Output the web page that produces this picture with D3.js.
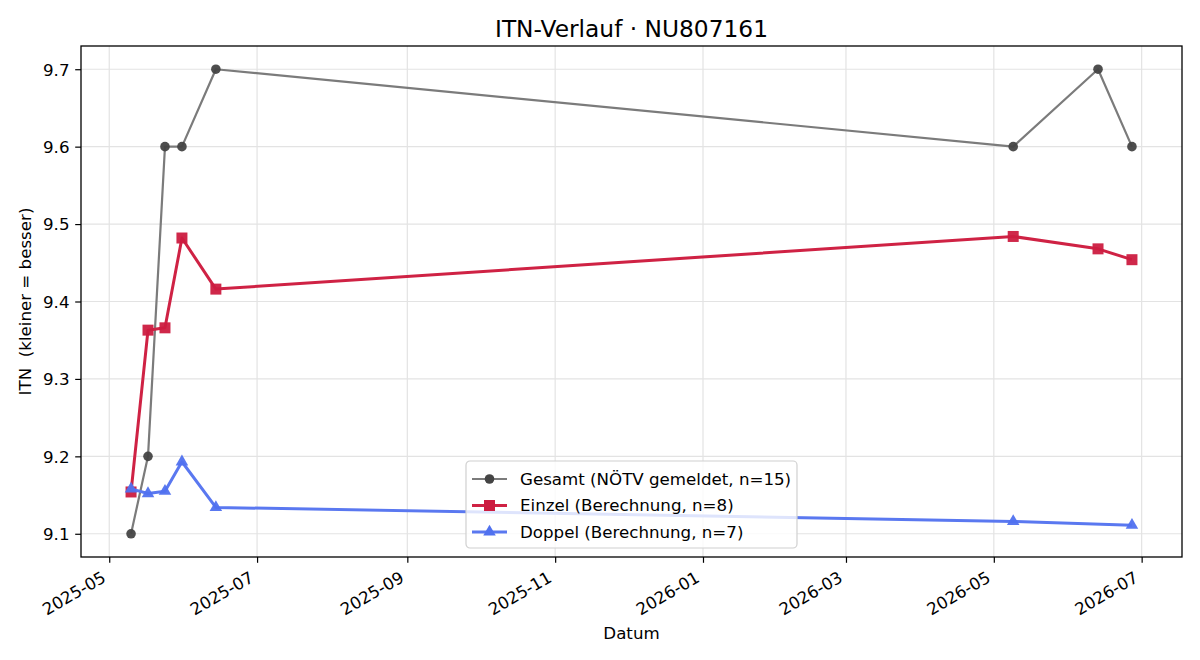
<!DOCTYPE html>
<html>
<head>
<meta charset="utf-8">
<script src="https://cdn.jsdelivr.net/npm/d3@7"></script>
<style>
  body { margin: 0; background: #fff; }
  text { font-family: "DejaVu Sans", sans-serif; fill: #000; }
</style>
</head>
<body>
<div id="chart"></div>
<script>
// data
var dates = ["2025-05-10", "2025-05-17", "2025-05-24", "2025-05-31", "2025-06-14",
             "2026-05-09", "2026-06-13", "2026-06-27"];
var gesamt = [9.1, 9.2, 9.6, 9.6, 9.7, 9.6, 9.7, 9.6];
var einzel = [9.154, 9.363, 9.366, 9.482, 9.416, 9.484, 9.468, 9.454];
var doppelDates = ["2025-05-10", "2025-05-17", "2025-05-24", "2025-05-31", "2025-06-14",
                   "2026-05-09", "2026-06-27"];
var doppel = [9.158, 9.152, 9.155, 9.193, 9.134, 9.116, 9.111];
var yTicks = [9.1, 9.2, 9.3, 9.4, 9.5, 9.6, 9.7];
var legendLabels = ["Gesamt (NÖTV gemeldet, n=15)", "Einzel (Berechnung, n=8)", "Doppel (Berechnung, n=7)"];

var svgWidth = 1200;
var svgHeight = 660;
var margin = { top: 46, right: 18, bottom: 103, left: 81 };
var chartWidth = svgWidth - margin.left - margin.right;
var chartHeight = svgHeight - margin.top - margin.bottom;
var fontSize = "16.67px";

var parse = d3.timeParse("%Y-%m-%d");

var svg = d3.select("#chart")
  .append("svg")
  .attr("width", svgWidth)
  .attr("height", svgHeight);

var chartGroup = svg.append("g")
  .attr("transform", `translate(${margin.left}, ${margin.top})`);

// scales with matplotlib-like 5% padding
var xExt = d3.extent(dates.map(parse));
var xPad = (xExt[1] - xExt[0]) * 0.05;
var xScale = d3.scaleTime()
  .domain([new Date(+xExt[0] - xPad), new Date(+xExt[1] + xPad)])
  .range([0, chartWidth]);

var yScale = d3.scaleLinear()
  .domain([9.07, 9.73])
  .range([chartHeight, 0]);

var xTicks = xScale.ticks(d3.timeMonth.every(2));

// grid
chartGroup.append("g")
  .selectAll("line")
  .data(xTicks)
  .enter()
  .append("line")
  .attr("x1", d => xScale(d))
  .attr("x2", d => xScale(d))
  .attr("y1", 0)
  .attr("y2", chartHeight)
  .attr("stroke", "#e3e3e3")
  .attr("stroke-width", 1.2);

chartGroup.append("g")
  .selectAll("line")
  .data(yTicks)
  .enter()
  .append("line")
  .attr("x1", 0)
  .attr("x2", chartWidth)
  .attr("y1", d => yScale(d))
  .attr("y2", d => yScale(d))
  .attr("stroke", "#e3e3e3")
  .attr("stroke-width", 1.2);

// axes
var bottomAxis = d3.axisBottom(xScale)
  .tickValues(xTicks)
  .tickSize(5.8)
  .tickFormat(d3.timeFormat("%Y-%m"));
var leftAxis = d3.axisLeft(yScale)
  .tickValues(yTicks)
  .tickSize(5.8)
  .tickFormat(d3.format(".1f"));

var xAxisG = chartGroup.append("g")
  .attr("transform", `translate(0, ${chartHeight})`)
  .call(bottomAxis);
xAxisG.select(".domain").remove();
xAxisG.selectAll("text").remove();
xAxisG.selectAll(".tick")
  .append("text")
  .attr("transform", "translate(-5, 20) rotate(-30)")
  .attr("text-anchor", "end")
  .attr("dominant-baseline", "middle")
  .attr("font-size", fontSize)
  .text(d => d3.timeFormat("%Y-%m")(d));

var yAxisG = chartGroup.append("g").call(leftAxis);
yAxisG.select(".domain").remove();
yAxisG.selectAll("text")
  .attr("font-size", fontSize)
  .attr("x", -11.5)
  .attr("dy", "0.35em");

xAxisG.selectAll("line").attr("stroke", "#000").attr("stroke-width", 1.2);
yAxisG.selectAll("line").attr("stroke", "#000").attr("stroke-width", 1.2);

// frame
chartGroup.append("rect")
  .attr("width", chartWidth)
  .attr("height", chartHeight)
  .attr("fill", "none")
  .attr("stroke", "#000")
  .attr("stroke-width", 1.3);

// series
var series = [
  { dates: dates, values: gesamt, line: "#7b7b7b", mark: "#444444", width: 2.2, shape: "circle" },
  { dates: dates, values: einzel, line: "#cf2244", mark: "#cc1c40", width: 3, shape: "square" },
  { dates: doppelDates, values: doppel, line: "#5a78f0", mark: "#5071ef", width: 3, shape: "triangle" }
];

var symbols = {
  circle: d3.symbol().type(d3.symbolCircle).size(Math.PI * 4.8 * 4.8),
  square: d3.symbol().type(d3.symbolSquare).size(11 * 11),
  triangle: d3.symbol().type(d3.symbolTriangle).size(68)
};

var lineGen = d3.line()
  .x(d => xScale(d.date))
  .y(d => yScale(d.value));

series.forEach(function(s) {
  var pts = s.dates.map((d, i) => ({ date: parse(d), value: s.values[i] }));
  chartGroup.append("path")
    .datum(pts)
    .attr("d", lineGen)
    .attr("fill", "none")
    .attr("stroke", s.line)
    .attr("stroke-width", s.width)
    .attr("stroke-linejoin", "round");
  chartGroup.selectAll(null)
    .data(pts)
    .enter()
    .append("path")
    .attr("d", symbols[s.shape])
    .attr("transform", d => `translate(${xScale(d.date)}, ${yScale(d.value)})`)
    .attr("fill", s.mark)
    .attr("fill-opacity", 0.95);
});

// legend
var legend = svg.append("g")
  .attr("transform", "translate(466, 461)");
legend.append("rect")
  .attr("width", 331)
  .attr("height", 87)
  .attr("rx", 4)
  .attr("fill", "#fff")
  .attr("fill-opacity", 0.8)
  .attr("stroke", "#d0d0d0")
  .attr("stroke-width", 1.2);

legendLabels.forEach(function(label, i) {
  var s = series[i];
  var ly = 18 + i * 26.5;
  legend.append("line")
    .attr("x1", 6)
    .attr("x2", 41)
    .attr("y1", ly)
    .attr("y2", ly)
    .attr("stroke", s.line)
    .attr("stroke-width", s.width);
  legend.append("path")
    .attr("d", symbols[s.shape])
    .attr("transform", `translate(23.5, ${ly})`)
    .attr("fill", s.mark);
  legend.append("text")
    .attr("x", 54)
    .attr("y", ly)
    .attr("dy", "0.35em")
    .attr("font-size", fontSize)
    .text(label);
});

// title and axis labels
svg.append("text")
  .attr("x", margin.left + chartWidth / 2)
  .attr("y", 37)
  .attr("text-anchor", "middle")
  .attr("font-size", "23.3px")
  .text("ITN-Verlauf · NU807161");

svg.append("text")
  .attr("x", margin.left + chartWidth / 2)
  .attr("y", 639)
  .attr("text-anchor", "middle")
  .attr("font-size", fontSize)
  .text("Datum");

svg.append("text")
  .attr("transform", `translate(31, ${margin.top + chartHeight / 2}) rotate(-90)`)
  .attr("text-anchor", "middle")
  .attr("font-size", fontSize)
  .style("white-space", "pre")
  .text("ITN  (kleiner = besser)");
</script>
</body>
</html>
